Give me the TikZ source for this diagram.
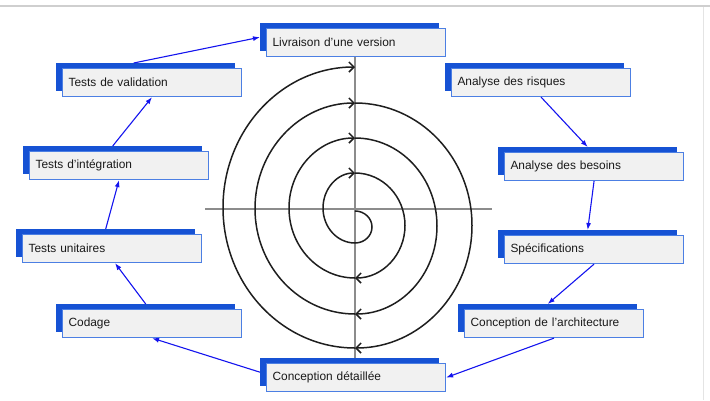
\documentclass[tikz,border=0pt]{standalone}
\usepackage{fontspec}
\setmainfont{Liberation Sans}
\usetikzlibrary{arrows.meta}
\definecolor{boxblue}{HTML}{1652D4}
\definecolor{boxedge}{HTML}{4C7FE3}
\definecolor{boxfill}{HTML}{F1F1F1}
\definecolor{flowblue}{HTML}{1414EE}
\definecolor{axisgray}{HTML}{8C8C8C}
\definecolor{spiralc}{HTML}{1E1E1E}
\definecolor{topline}{HTML}{CFCFCF}
\definecolor{sideline}{HTML}{E4E4E4}
\begin{document}
\begin{tikzpicture}[x=1pt,y=-1pt,
  front/.style={draw=boxedge, fill=boxfill, line width=1.1pt, anchor=north west,
    minimum height=28pt, text width=167pt, inner xsep=6pt, inner ysep=0pt,
    align=left, font=\fontsize{11.9}{14}\selectfont, text=black!90},
  back/.style={fill=boxblue, anchor=north west, minimum width=179pt,
    minimum height=28pt, inner sep=0pt},
  flow/.style={draw=flowblue, line width=1.1pt, -{Latex[length=7pt,width=5pt]}},
  spir/.style={draw=spiralc, line width=1.5pt},
  spira/.style={spir, -{Straight Barb[length=5pt,width=10pt]}},
  axis/.style={draw=axisgray, line width=1.8pt}
]
\useasboundingbox (0,0) rectangle (710,400);
% frame lines of the screenshot
\draw[topline, line width=2pt] (0,6) -- (710,6);
\draw[sideline, line width=0.8pt] (703,7) -- (703,400);
% axes
\draw[axis] (355,57) -- (355,360);
\draw[axis] (205,209) -- (492,209);
% spiral
\draw[spira] (355,211) arc[start angle=90, end angle=-90, x radius=17pt, y radius=16pt]
  arc[start angle=270, end angle=90, x radius=32pt, y radius=35pt];
\draw[spira] (355,173) arc[start angle=90, end angle=-90, x radius=50pt, y radius=52.5pt];
\draw[spira] (355,278) arc[start angle=270, end angle=90, x radius=66pt, y radius=70pt];
\draw[spira] (355,138) arc[start angle=90, end angle=-90, x radius=82pt, y radius=88pt];
\draw[spira] (355,314) arc[start angle=270, end angle=90, x radius=100pt, y radius=105.5pt];
\draw[spira] (355,103) arc[start angle=90, end angle=-90, x radius=117pt, y radius=122.5pt];
\draw[spira] (355,348) arc[start angle=270, end angle=90, x radius=132pt, y radius=140.5pt];
% boxes
\node[back] (livb) at (260,23) {};
\node[front] (liv) at (266,28) {Livraison d’une version};
\node[back] (valb) at (56,63) {};
\node[front] (val) at (62,68) {Tests de validation};
\node[back] (riskb) at (445,63) {};
\node[front] (risk) at (451,68) {Analyse des risques};
\node[back] (integb) at (23,146) {};
\node[front] (integ) at (29,151) {Tests d’intégration};
\node[back] (besb) at (498,147) {};
\node[front] (bes) at (504,152) {Analyse des besoins};
\node[back] (unitb) at (16,229) {};
\node[front] (unit) at (22,234) {Tests unitaires};
\node[back] (specb) at (498,230) {};
\node[front] (spec) at (504,235) {Spécifications};
\node[back] (codb) at (56,304) {};
\node[front] (cod) at (62,309) {Codage};
\node[back] (archb) at (458,304) {};
\node[front] (arch) at (464,309) {Conception de l’architecture};
\node[back] (detb) at (260,358) {};
\node[front] (det) at (266,363) {Conception détaillée};
% flow arrows
\draw[flow] (risk.south) -- (besb.north);
\draw[flow] (bes.south) -- (specb.north);
\draw[flow] (spec.south) -- (archb.north);
\draw[flow] (arch.south) -- (det.east);
\draw[flow] (detb.west) -- (cod.south);
\draw[flow] (codb.north) -- ([xshift=3pt]unit.south);
\draw[flow] (unitb.north) -- (integ.south);
\draw[flow] (integb.north) -- (val.south);
\draw[flow] ([xshift=-12pt]valb.north) -- (livb.west);
\end{tikzpicture}
\end{document}
